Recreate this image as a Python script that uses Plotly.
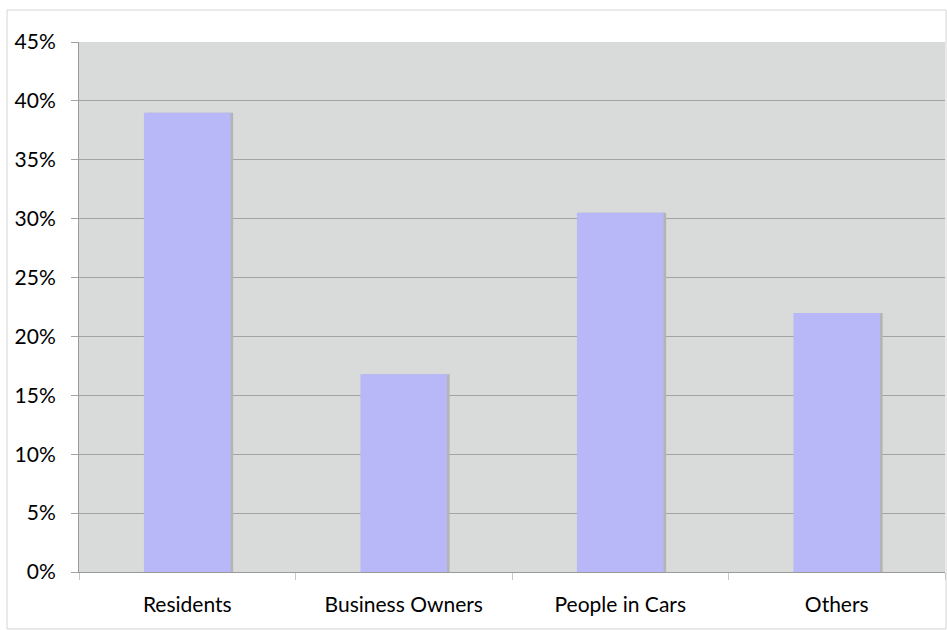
import plotly.graph_objects as go

categories = ["Residents", "Business Owners", "People in Cars", "Others"]
shares = [39.0, 16.8, 30.5, 22.0]
y_ticks = [0, 5, 10, 15, 20, 25, 30, 35, 40, 45]
y_tick_labels = [f"{v}%" for v in y_ticks]

fig = go.Figure()

# soft drop shadow behind each bar
fig.add_trace(go.Bar(
    x=categories, y=shares, width=0.4, offset=-0.188,
    marker=dict(color="#b4b4b4", line=dict(width=0)),
    hoverinfo="skip", showlegend=False,
))
fig.add_trace(go.Bar(
    x=categories, y=shares, width=0.4, offset=-0.2,
    marker=dict(color="#b8b8f8", line=dict(width=0)),
    showlegend=False,
))

fig.update_layout(
    width=947, height=630,
    margin=dict(l=79, r=2, t=42, b=58),
    barmode="overlay",
    paper_bgcolor="white",
    plot_bgcolor="#d9dada",
    font=dict(family="Lato, sans-serif", size=21, color="black"),
    shapes=[dict(
        type="rect", xref="paper", yref="paper",
        x0=-0.0831, x1=1.0012, y0=-0.1075, y1=1.0604,
        line=dict(color="#d4d4d4", width=1), layer="below",
    )],
)
fig.update_xaxes(
    showline=True, linecolor="#9a9a9a", linewidth=1,
    showgrid=False, ticks="outside", tickson="boundaries",
    ticklen=7, tickcolor="#c8c8c8", tickfont=dict(size=21),
    ticklabelstandoff=14,
)
fig.update_yaxes(
    range=[0, 45], tickvals=y_ticks, ticktext=y_tick_labels,
    showline=True, linecolor="#9a9a9a", linewidth=1,
    showgrid=True, gridcolor="#a3a3a3", gridwidth=1,
    ticks="outside", ticklen=7, tickcolor="#a3a3a3",
    tickfont=dict(size=21), zeroline=False, ticklabelstandoff=11,
)

fig.write_html(
    "out.html",
    config={"displayModeBar": False},
    post_script="document.body.style.margin='0';",
)
